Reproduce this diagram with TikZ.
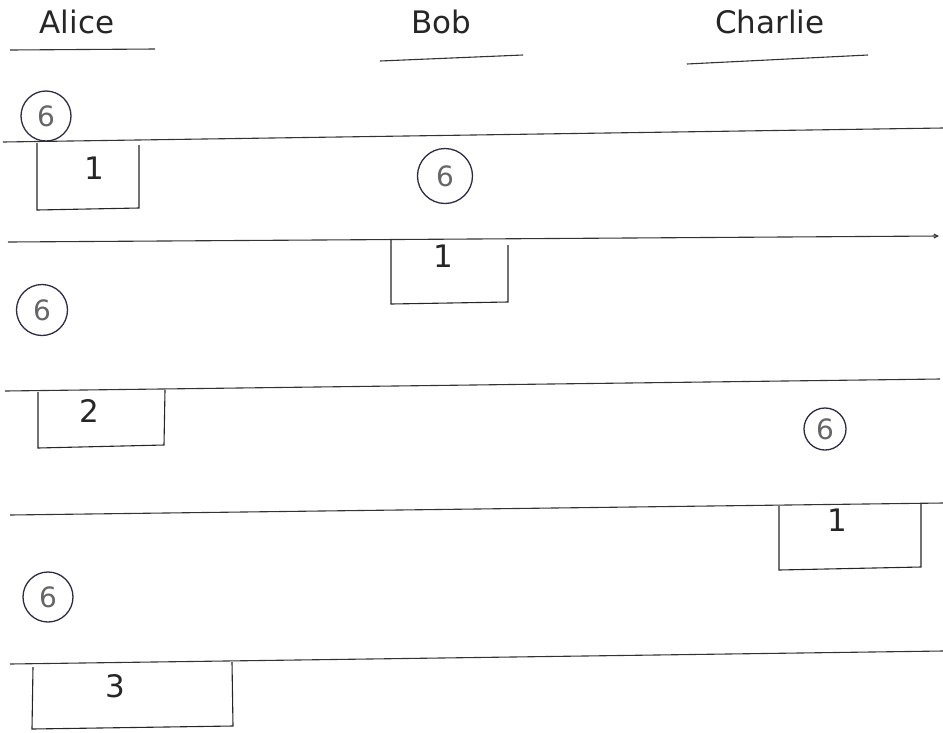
\documentclass[tikz,border=0pt]{standalone}
\usepackage{fontspec}
\setmainfont{DejaVu Sans}
\usetikzlibrary{arrows.meta}
\definecolor{ringc}{HTML}{2B2B45}
\definecolor{sixc}{HTML}{666666}
\definecolor{linec}{HTML}{333333}
\tikzset{
  lane/.style={draw=linec, line width=1.1pt},
  ulin/.style={draw=linec, line width=1.1pt},
  slotbox/.style={draw=black!85, line width=1.1pt},
  who/.style={font=\fontsize{31}{33}\selectfont, text=black!85, inner sep=0pt},
  num/.style={font=\fontsize{31}{33}\selectfont, text=black!85, inner sep=0pt},
  ring/.style={circle, draw=ringc, line width=1.3pt, inner sep=0pt, minimum size=#1pt,
     font=\fontsize{28}{30}\selectfont, text=sixc},
}
\begin{document}
\begin{tikzpicture}[x=1pt,y=-1pt]
\useasboundingbox (0,0) rectangle (943,732);
% headers
\node[who] (alice) at (77,22) {Alice};
\node[who] (bob) at (441,22) {Bob};
\node[who] (charlie) at (770,22) {Charlie};
\coordinate (ua1) at (10,50); \coordinate (ua2) at (155,49);
\coordinate (ub1) at (380,61); \coordinate (ub2) at (523,55);
\coordinate (uc1) at (687,64); \coordinate (uc2) at (868,55);
\draw[ulin] (ua1) -- (ua2);
\draw[ulin] (ub1) -- (ub2);
\draw[ulin] (uc1) -- (uc2);
% lanes
\coordinate (l1a) at (3,142); \coordinate (l1b) at (943,128);
\coordinate (l2a) at (8,242); \coordinate (l2b) at (939,236);
\coordinate (l3a) at (5,391); \coordinate (l3b) at (940,379);
\coordinate (l4a) at (10,515); \coordinate (l4b) at (943,503);
\coordinate (l5a) at (10,664); \coordinate (l5b) at (943,651);
\draw[lane] (l1a) -- (l1b);
\draw[lane,-{Straight Barb[length=4pt,width=4pt]}] (l2a) -- (l2b);
\draw[lane] (l3a) -- (l3b);
\draw[lane] (l4a) -- (l4b);
\draw[lane] (l5a) -- (l5b);
% circles
\node[ring=50] (c1) at (46,116) {6};
\node[ring=55] (c2) at (445,176) {6};
\node[ring=51] (c3) at (42,310) {6};
\node[ring=42] (c4) at (825,429) {6};
\node[ring=50] (c5) at (48,597) {6};
% boxes
\draw[slotbox] (37,143) -- (37,210) -- (139,208) -- (139,145);
\node[num] (n1) at (94,168) {1};
\draw[slotbox] (391,240) -- (391,304) -- (508,302) -- (508,245);
\node[num] (n2) at (443,256) {1};
\draw[slotbox] (38,392) -- (38,448) -- (164,445) -- (165,390);
\node[num] (n3) at (89,411) {2};
\draw[slotbox] (779,506) -- (779,570) -- (921,567) -- (921,504);
\node[num] (n4) at (837,520) {1};
\draw[slotbox] (33,667) -- (32,729) -- (233,726) -- (232,662);
\node[num] (n5) at (115,686) {3};
\end{tikzpicture}
\end{document}
